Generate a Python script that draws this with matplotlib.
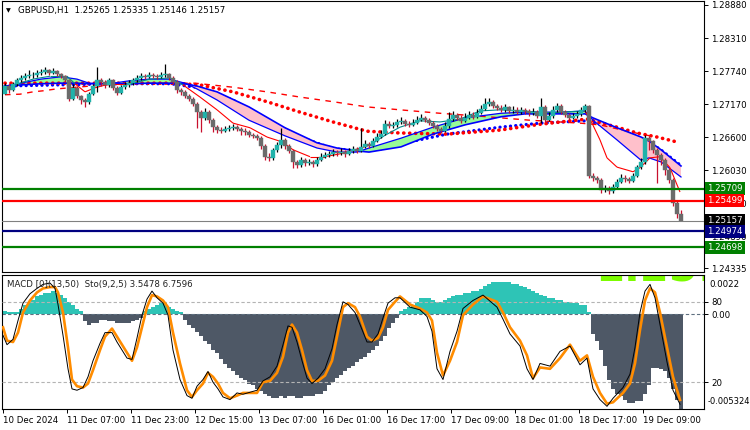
import numpy as np
import matplotlib
matplotlib.use("Agg")
import matplotlib.pyplot as plt
from matplotlib.collections import LineCollection
from matplotlib.transforms import blended_transform_factory as btf

plt.rcParams['font.family'] = ['DejaVu Sans']
FS = 6.2

# ---------------- data: GBPUSD H1 candles ----------------
first_open = 1.2734
closes = [
    1.2748, 1.2741, 1.2752, 1.2758, 1.2762, 1.2765, 1.2767, 1.2767, 1.2770, 1.2772,
    1.2776, 1.2770, 1.2774, 1.2769, 1.2765, 1.2758, 1.2726, 1.2745, 1.2731, 1.2724,
    1.2721, 1.2734, 1.2748, 1.2758, 1.2755, 1.2750, 1.2758, 1.2745, 1.2736, 1.2746,
    1.2750, 1.2753, 1.2758, 1.2762, 1.2765, 1.2764, 1.2767, 1.2765, 1.2764, 1.2767,
    1.2769, 1.2762, 1.2755, 1.2741, 1.2738, 1.2731, 1.2726, 1.2717, 1.2703, 1.2693,
    1.2703, 1.2689, 1.2677, 1.2672, 1.2670, 1.2674, 1.2676, 1.2677, 1.2674, 1.2670,
    1.2669, 1.2663, 1.2662, 1.2658, 1.2644, 1.2626, 1.2624, 1.2638, 1.2646, 1.2655,
    1.2644, 1.2636, 1.2617, 1.2612, 1.2620, 1.2615, 1.2617, 1.2613, 1.2620, 1.2626,
    1.2629, 1.2631, 1.2634, 1.2632, 1.2634, 1.2631, 1.2636, 1.2639, 1.2636, 1.2643,
    1.2648, 1.2644, 1.2653, 1.2660, 1.2665, 1.2682, 1.2679, 1.2681, 1.2686, 1.2688,
    1.2682, 1.2681, 1.2684, 1.2689, 1.2693, 1.2689, 1.2684, 1.2679, 1.2674, 1.2670,
    1.2679, 1.2691, 1.2698, 1.2693, 1.2688, 1.2693, 1.2698, 1.2695, 1.2701, 1.2708,
    1.2717, 1.2721, 1.2714, 1.2710, 1.2707, 1.2712, 1.2705, 1.2707, 1.2703, 1.2707,
    1.2705, 1.2701, 1.2703, 1.2696, 1.2712, 1.2689, 1.2696, 1.2707, 1.2714, 1.2703,
    1.2698, 1.2693, 1.2696, 1.2700, 1.2707, 1.2714, 1.2593, 1.2589, 1.2586, 1.2569,
    1.2572, 1.2567, 1.2574, 1.2582, 1.2589, 1.2588, 1.2584, 1.2593, 1.2608, 1.2617,
    1.2658, 1.2653, 1.2638, 1.2629, 1.2620, 1.2603, 1.2586, 1.2546, 1.25265, 1.25157]
highs = [
    1.2753, 1.2752, 1.2755, 1.2762, 1.2767, 1.2770, 1.2776, 1.2772, 1.2776, 1.2777,
    1.2781, 1.2777, 1.2779, 1.2776, 1.2770, 1.2767, 1.2760, 1.2752, 1.2748, 1.2733,
    1.2727, 1.2738, 1.2752, 1.2781, 1.2762, 1.2758, 1.2762, 1.2760, 1.2748, 1.2750,
    1.2755, 1.2758, 1.2762, 1.2767, 1.2770, 1.2769, 1.2772, 1.2770, 1.2769, 1.2772,
    1.2786, 1.2770, 1.2765, 1.2758, 1.2745, 1.2741, 1.2734, 1.2729, 1.2721, 1.2707,
    1.2710, 1.2707, 1.2693, 1.2681, 1.2677, 1.2679, 1.2681, 1.2682, 1.2681, 1.2677,
    1.2676, 1.2672, 1.2667, 1.2665, 1.2662, 1.2648, 1.2632, 1.2641, 1.2651, 1.2676,
    1.2658, 1.2648, 1.2639, 1.2620, 1.2626, 1.2624, 1.2622, 1.2620, 1.2626, 1.2632,
    1.2634, 1.2636, 1.2639, 1.2638, 1.2641, 1.2638, 1.2641, 1.2644, 1.2643, 1.2676,
    1.2655, 1.2651, 1.2658, 1.2667, 1.2672, 1.2689, 1.2688, 1.2686, 1.2691, 1.2695,
    1.2691, 1.2688, 1.2691, 1.2696, 1.2700, 1.2696, 1.2693, 1.2688, 1.2682, 1.2677,
    1.2686, 1.2703, 1.2705, 1.2701, 1.2698, 1.2701, 1.2705, 1.2703, 1.2708, 1.2715,
    1.2727, 1.2727, 1.2724, 1.2717, 1.2715, 1.2717, 1.2714, 1.2714, 1.2712, 1.2712,
    1.2710, 1.2708, 1.2710, 1.2707, 1.2727, 1.2715, 1.2703, 1.2714, 1.2719, 1.2717,
    1.2707, 1.2701, 1.2701, 1.2705, 1.2712, 1.2717, 1.2715, 1.2598, 1.2593, 1.2589,
    1.2577, 1.2576, 1.2579, 1.2588, 1.2596, 1.2594, 1.2591, 1.2598, 1.2612, 1.2624,
    1.2663, 1.2662, 1.2655, 1.2641, 1.2632, 1.2624, 1.2607, 1.2589, 1.2551, 1.25335]
lows = [
    1.2734, 1.2736, 1.2740, 1.2748, 1.2755, 1.2758, 1.2762, 1.2762, 1.2764, 1.2767,
    1.2769, 1.2767, 1.2769, 1.2765, 1.2762, 1.2755, 1.2722, 1.2724, 1.2727, 1.2717,
    1.2712, 1.2717, 1.2733, 1.2738, 1.2748, 1.2745, 1.2746, 1.2741, 1.2733, 1.2734,
    1.2743, 1.2746, 1.2750, 1.2755, 1.2758, 1.2760, 1.2762, 1.2762, 1.2760, 1.2762,
    1.2764, 1.2758, 1.2752, 1.2736, 1.2733, 1.2727, 1.2722, 1.2714, 1.2676, 1.2669,
    1.2689, 1.2684, 1.2669, 1.2667, 1.2667, 1.2669, 1.2670, 1.2672, 1.2670, 1.2663,
    1.2663, 1.2660, 1.2658, 1.2655, 1.2639, 1.2620, 1.2619, 1.2620, 1.2634, 1.2641,
    1.2639, 1.2632, 1.2607, 1.2607, 1.2608, 1.2610, 1.2612, 1.2608, 1.2610, 1.2619,
    1.2624, 1.2626, 1.2627, 1.2627, 1.2629, 1.2626, 1.2629, 1.2632, 1.2632, 1.2634,
    1.2641, 1.2641, 1.2643, 1.2651, 1.2658, 1.2663, 1.2676, 1.2676, 1.2677, 1.2682,
    1.2679, 1.2677, 1.2679, 1.2682, 1.2688, 1.2686, 1.2681, 1.2676, 1.2670, 1.2667,
    1.2669, 1.2676, 1.2688, 1.2689, 1.2684, 1.2686, 1.2691, 1.2691, 1.2693, 1.2700,
    1.2707, 1.2714, 1.2710, 1.2707, 1.2703, 1.2703, 1.2701, 1.2701, 1.2700, 1.2700,
    1.2700, 1.2696, 1.2698, 1.2693, 1.2684, 1.2686, 1.2688, 1.2693, 1.2703, 1.2700,
    1.2695, 1.2689, 1.2691, 1.2693, 1.2696, 1.2703, 1.2589, 1.2584, 1.2581, 1.2563,
    1.2565, 1.2562, 1.2563, 1.2570, 1.2581, 1.2582, 1.2581, 1.2582, 1.2591, 1.2605,
    1.2613, 1.2638, 1.2632, 1.2581, 1.2612, 1.2594, 1.2581, 1.2541, 1.2520, 1.25146]

# moving-average cloud (fast / slow), sampled at bar indices
cloud_x = [0, 4, 9, 14, 18, 21, 26, 31, 36, 41, 45, 48, 53, 61, 70, 78, 83, 88, 91, 99,
           107, 115, 124, 130, 139, 145, 147, 153, 159, 161, 164, 169]
cloud_fast = [1.2748, 1.2753, 1.2760, 1.2764, 1.2760, 1.2753, 1.2752, 1.2757, 1.2760, 1.2760,
              1.2753, 1.2743, 1.2724, 1.2689, 1.2662, 1.2641, 1.2634, 1.2634, 1.2641, 1.2658,
              1.2677, 1.2693, 1.2701, 1.2703, 1.2703, 1.2705, 1.2689, 1.2655, 1.2620, 1.2624,
              1.2617, 1.2591]
cloud_slow = [1.2748, 1.2750, 1.2752, 1.2753, 1.2753, 1.2752, 1.2752, 1.2752, 1.2753, 1.2753,
              1.2752, 1.2748, 1.2738, 1.2712, 1.2676, 1.2650, 1.2641, 1.2636, 1.2634, 1.2643,
              1.2665, 1.2681, 1.2695, 1.2700, 1.2700, 1.2700, 1.2693, 1.2676, 1.2660, 1.2653,
              1.2638, 1.2610]

# red dotted MA
rdot_x = [0, 13.75, 28.75, 41.25, 48.75, 57, 65.5, 73.75, 82, 90.5, 98.75, 110.5, 123.75,
          133.75, 145.5, 153, 158, 163, 168.25]
rdot_y = [1.2753, 1.2753, 1.2753, 1.2753, 1.2750, 1.2738, 1.2721, 1.2703, 1.2686, 1.2670,
          1.2667, 1.2665, 1.2672, 1.2682, 1.2691, 1.2677, 1.2667, 1.2660, 1.2651]
# blue dotted MA
bdot_x = [0, 13.75, 28.75, 41.25, 48.75, 57, 65.5, 73.75, 82, 88.75, 93.75, 98.75, 110.5,
          123.75, 133.75, 145.5, 153, 159.5, 163.75, 168.75]
bdot_y = [1.2748, 1.2750, 1.2752, 1.2752, 1.2745, 1.2724, 1.2690, 1.2660, 1.2640, 1.2636,
          1.2639, 1.2648, 1.2665, 1.2677, 1.2684, 1.2688, 1.2674, 1.2657, 1.2639, 1.2612]
# red dashed MA
rdash_x = [0, 3.75, 7, 9.75, 12.75, 21.25, 28.75, 38.75, 47.5, 57, 65.5, 73.75, 82, 90.5,
           98.75, 108.75, 118.75, 131.25, 143.75, 148.75, 156.25, 161.25]
rdash_y = [1.2733, 1.2734, 1.2738, 1.2740, 1.2743, 1.2748, 1.2752, 1.2753, 1.2753, 1.2746,
           1.2738, 1.2729, 1.2721, 1.2712, 1.2707, 1.2701, 1.2696, 1.2689, 1.2684, 1.2681,
           1.2669, 1.2662]
# thin fast MA (teal in up-phases, red in down-phases)
thin_x = [0, 3.75, 7, 11.25, 15.5, 17.5, 20, 22.5, 26.25, 31.25,
          36.25, 41.25, 44.5, 48.75, 53, 57, 61.25, 65.5, 69.5, 72,
          76.25, 80, 83.75, 87.5, 91.25, 95, 98.75, 103.75, 108.75, 113.75,
          118.75, 123.75, 128.75, 133.75, 138.75, 145, 146.75, 148.75, 150.5, 153,
          157, 158.75, 161.25, 163.75, 166.25, 168.75]
thin_y = [1.2741, 1.2753, 1.2760, 1.2765, 1.2765, 1.2752, 1.2738, 1.2745, 1.2752, 1.2752,
          1.2760, 1.2762, 1.2750, 1.2729, 1.2707, 1.2684, 1.2676, 1.2660, 1.2651, 1.2638,
          1.2626, 1.2626, 1.2631, 1.2638, 1.2646, 1.2663, 1.2677, 1.2688, 1.2686, 1.2691,
          1.2705, 1.2707, 1.2705, 1.2703, 1.2703, 1.2705, 1.2684, 1.2655, 1.2624, 1.2608,
          1.2600, 1.2607, 1.2624, 1.2626, 1.2607, 1.2565]
thin_teal_ranges = [(0, 17.5), (33, 44.5), (92, 145)]

# horizontal levels
levels = [1.25709, 1.25499, 1.25157, 1.24974, 1.24698]
level_labels = ['1.25709', '1.25499', '1.25157', '1.24974', '1.24698']
level_colors = ['#008000', '#ff0000', '#808080', '#000080', '#008000']
label_bg = ['#008000', '#ff0000', '#000000', '#000080', '#008000']
level_widths = [1.6, 1.6, 0.8, 1.6, 1.6]

price_ticks = [1.28880, 1.28310, 1.27740, 1.27170, 1.26600, 1.26030, 1.25460, 1.24890, 1.24335]

# MACD histogram (one value per bar)
macd_hist = [
    0.0002, 0.0001, 0.0001, 0.0001, 0.0003, 0.0005, 0.0007, 0.0008, 0.0010, 0.0011,
    0.0012, 0.0012, 0.0013, 0.0012, 0.0011, 0.0009, 0.0007, 0.0005, 0.0003, 0.0002,
    -0.0004, -0.0006, -0.0005, -0.0005, -0.0003, -0.0003, -0.0004, -0.0004, -0.0005, -0.0005,
    -0.0005, -0.0005, -0.0004, -0.0003, -0.0002, 0.0002, 0.0003, 0.0004, 0.0005, 0.0006,
    0.0006, 0.0004, 0.0003, 0.0002, 0.0001, -0.0003, -0.0006, -0.0008, -0.0010, -0.0012,
    -0.0015, -0.0017, -0.0020, -0.0022, -0.0025, -0.0028, -0.0030, -0.0032, -0.0034, -0.0036,
    -0.0037, -0.0039, -0.0040, -0.0042, -0.0043, -0.0045, -0.0046, -0.0047, -0.0047, -0.0046,
    -0.0047, -0.0046, -0.0046, -0.0047, -0.0047, -0.0046, -0.0046, -0.0046, -0.0045, -0.0045,
    -0.0043, -0.0040, -0.0038, -0.0036, -0.0034, -0.0032, -0.0030, -0.0029, -0.0027, -0.0025,
    -0.0024, -0.0022, -0.0020, -0.0018, -0.0015, -0.0012, -0.0008, -0.0005, -0.0002, 0.0002,
    0.0003, 0.0004, 0.0005, 0.0007, 0.0009, 0.0009, 0.0009, 0.0008, 0.0007, 0.0007,
    0.0008, 0.0009, 0.0010, 0.0011, 0.0011, 0.0012, 0.0012, 0.0013, 0.0013, 0.0014,
    0.0016, 0.0017, 0.0018, 0.0018, 0.0018, 0.0018, 0.0018, 0.0017, 0.0017, 0.0016,
    0.0015, 0.0014, 0.0013, 0.0012, 0.0011, 0.0010, 0.0009, 0.0009, 0.0008, 0.0008,
    0.0007, 0.0007, 0.0006, 0.0006, 0.0005, 0.0005, 0.0001, -0.0011, -0.0015, -0.0020,
    -0.0029, -0.0037, -0.0042, -0.0045, -0.0046, -0.0048, -0.0050, -0.0050, -0.0049, -0.0049,
    -0.0045, -0.0040, -0.0030, -0.0030, -0.0031, -0.0032, -0.0036, -0.0042, -0.0048, -0.0053]

# Stochastic (9,2,5): bar positions, signal (orange) and main (black)
sto_x = [-0.5, 0.5, 2, 3.25, 4.5, 6.25, 8, 9.5, 11.25, 12.5,
         13.25, 14.5, 15.75, 16.75, 18, 19.5, 20.75, 22, 23.75, 25,
         26.75, 28, 29.25, 30.5, 31.75, 33, 34.25, 35.5, 36.75, 38,
         39.5, 40.75, 42, 43.75, 45.5, 46.75, 48, 49.5, 50.75, 52,
         53.25, 54.5, 56.25, 58, 59.5, 63, 64.5, 66.25, 68, 69.5,
         70.75, 71.75, 73, 74.25, 75.5, 76.75, 78.25, 80, 81.75, 83,
         84.5, 85.75, 87.5, 88.75, 90.5, 91.75, 93.25, 94.5, 95.75, 97.5,
         98.75, 101.25, 103.75, 105.5, 106.75, 108, 109.5, 111.25, 113, 114.5,
         117, 119.5, 123, 124.5, 126.25, 128.75, 130.5, 132, 133.75, 136.25,
         138.75, 141.25, 143.75, 145.5, 147, 148.75, 150.5, 152, 154.5, 156.25,
         157.5, 158.75, 160, 161.25, 162.5, 163.75, 165.5, 167, 168.75]
sto_signal = [61, 51, 50, 57, 72, 81, 87, 90, 91, 91,
              87, 72, 46, 22, 17, 16, 19, 29, 44, 54,
              60, 54, 48, 42, 36, 46, 61, 76, 85, 84,
              81, 76, 57, 34, 14, 9, 14, 19, 27, 24,
              19, 12, 8, 10, 12, 12, 20, 21, 27, 39,
              57, 63, 57, 44, 29, 21, 21, 25, 36, 54,
              76, 79, 76, 69, 54, 51, 53, 61, 74, 80,
              84, 78, 75, 72, 66, 42, 25, 36, 50, 70,
              78, 84, 80, 72, 61, 51, 40, 23, 31, 30,
              38, 48, 36, 40, 24, 12, 4, 5, 12, 19,
              34, 59, 81, 90, 87, 72, 46, 24, 6.76]
sto_main = [55, 48, 52, 66, 79, 86, 90, 93, 94, 90,
            78, 55, 30, 15, 14, 16, 24, 36, 49, 57,
            57, 50, 44, 38, 37, 53, 70, 82, 88, 83,
            79, 70, 44, 22, 10, 8, 17, 22, 28, 20,
            15, 9, 7, 12, 11, 14, 21, 24, 32, 48,
            62, 61, 50, 36, 23, 19, 23, 30, 45, 63,
            80, 78, 72, 63, 50, 50, 56, 68, 79, 83,
            83, 76, 74, 69, 58, 30, 22, 43, 58, 75,
            81, 85, 76, 67, 56, 47, 30, 22, 34, 32,
            43, 47, 33, 38, 15, 7, 2, 8, 16, 26,
            46, 72, 88, 93, 83, 63, 35, 14, 3.55]

xtick_pos = [-0.5, 15.5, 31.5, 47.5, 63.5, 79.5, 95.5, 111.5, 127.5, 143.5, 159.5]
xtick_labels = ['10 Dec 2024', '11 Dec 07:00', '11 Dec 23:00', '12 Dec 15:00', '13 Dec 07:00',
                '16 Dec 01:00', '16 Dec 17:00', '17 Dec 09:00', '18 Dec 01:00',
                '18 Dec 17:00', '19 Dec 09:00']

# ---------------- figure ----------------
W, H = 750, 430
fig = plt.figure(figsize=(7.5, 4.3), dpi=100)
fig.patch.set_facecolor('white')


def frac(x0, y0, x1, y1):
    return [x0 / W, 1 - y1 / H, (x1 - x0) / W, (y1 - y0) / H]


ax = fig.add_axes(frac(2, 1, 704, 272))
axl = fig.add_axes(frac(2, 275, 704, 409), sharex=ax)

c = np.array(closes)
o = np.array([first_open] + closes[:-1])
h = np.array(highs)
l = np.array(lows)
bars = np.arange(len(c))
up = c >= o

# cloud
cx = np.array(cloud_x, float)
cf = np.array(cloud_fast)
cs = np.array(cloud_slow)
ax.plot(bdot_x, bdot_y, color='#0000ff', lw=2.3, linestyle=(0, (0.05, 1.6)),
        dash_capstyle='round', zorder=1.1)
ax.fill_between(cx, cf, cs, where=cf <= cs, interpolate=True, color='#ffc0cb', lw=0, zorder=1.2)
ax.fill_between(cx, cf, cs, where=cf >= cs, interpolate=True, color='#98fb98', lw=0, zorder=1.2)
ax.plot(cx, cs, color='#0000ff', lw=1.2, zorder=2.2)
ax.plot(cx, cf, color='#0000ff', lw=0.9, zorder=2.2)
ax.plot(rdot_x, rdot_y, color='#ff0000', lw=2.6, linestyle=(0, (0.05, 1.6)),
        dash_capstyle='round', zorder=2.0)
ax.plot(rdash_x, rdash_y, color='#ff0000', lw=1.0, linestyle=(0, (4, 4)), zorder=2.1)

# thin fast line with colour segments
tx = np.array(thin_x)
ty = np.array(thin_y)
segs, cols = [], []
for i in range(len(tx) - 1):
    mid = 0.5 * (tx[i] + tx[i + 1])
    teal = any(a <= mid <= b for a, b in thin_teal_ranges)
    segs.append([(tx[i], ty[i]), (tx[i + 1], ty[i + 1])])
    cols.append('#008b8b' if teal else '#ff0000')
ax.add_collection(LineCollection(segs, colors=cols, linewidths=0.8, zorder=2.4))

# candles
body_lo = np.minimum(o, c)
body_h = np.abs(c - o)
body_col = np.where(up, '#20b2aa', '#6b6b6b')
wick_col = np.where(up, '#000000', '#c8102e')
ax.vlines(bars, l, h, colors=list(wick_col), lw=0.9, zorder=3)
ax.bar(bars, body_h, bottom=body_lo, width=0.8, color=list(body_col),
       edgecolor=list(body_col), linewidth=0.3, zorder=3.1)

# levels
for val, col, lw in zip(levels, level_colors, level_widths):
    ax.axhline(val, color=col, lw=lw, zorder=4)

ax.set_xlim(-0.75, 174.75)
ax.set_ylim(1.24269, 1.28949)
ax.yaxis.tick_right()
ax.set_yticks(price_ticks)
ax.set_yticklabels([f'{v:.5f}' for v in price_ticks])
ax.tick_params(axis='y', length=3, width=0.7, pad=2, labelsize=FS, direction='out')
ax.tick_params(axis='x', bottom=False, labelbottom=False)
for s in ax.spines.values():
    s.set_color('black')
    s.set_linewidth(0.8)

tr = btf(ax.transAxes, ax.transData)
for val, bg, txt in zip(levels, label_bg, level_labels):
    ax.text(1.0045, val, txt, transform=tr, ha='left', va='center', color='white',
            fontsize=FS, clip_on=False, zorder=10,
            bbox=dict(boxstyle='square,pad=0.22', fc=bg, ec='none'))

fig.text(6 / W, 1 - 10.5 / H, '\u25BC', fontsize=4.5, va='center', ha='left')
fig.text(18 / W, 1 - 11 / H, 'GBPUSD,H1  1.25265 1.25335 1.25146 1.25157',
         fontsize=FS, va='center', ha='left')

# ---------------- lower panel ----------------
mh = np.array(macd_hist)
lime = axl.text(0.845, 0.955, '1.25157', transform=axl.transAxes, fontsize=30, color='#7cfc00',
                fontweight='bold', va='baseline', ha='left', zorder=0.5)
lime.set_clip_box(axl.bbox)
lime.set_clip_on(True)
axl.bar(bars, mh, width=0.8, color=list(np.where(mh >= 0, '#2ec4b6', '#4e5866')), lw=0, zorder=1)
axl.axhline(0, color='#5f7080', lw=0.8, linestyle=(0, (3, 2)), zorder=1.5)
axl.set_ylim(-0.005324, 0.0022)
axl.set_xticks(xtick_pos)
axl.set_xticklabels(xtick_labels)
for lbl in axl.get_xticklabels():
    lbl.set_ha('left')
axl.tick_params(axis='x', length=3, width=0.7, pad=2, labelsize=FS)
for s in axl.spines.values():
    s.set_color('black')
    s.set_linewidth(0.8)

axs = axl.twinx()
axs.set_ylim(0, 100)
axs.axhline(80, color='#b4b4b4', lw=0.8, linestyle=(0, (3, 2)))
axs.axhline(20, color='#b4b4b4', lw=0.8, linestyle=(0, (3, 2)))
axs.plot(sto_x, sto_signal, color='#ff8c00', lw=1.9, zorder=3)
axs.plot(sto_x, sto_main, color='#000000', lw=0.7, zorder=4)
axs.set_yticks([20, 80])
axs.set_yticklabels(['20', '80'])
axs.tick_params(axis='y', length=3, width=0.7, pad=2, labelsize=FS)
for s in axs.spines.values():
    s.set_visible(False)

# MACD axis ticks on the right (after twinx, which moves them left)
axl.yaxis.tick_right()
axl.set_yticks([0.0])
axl.set_yticklabels(['0.00'])
axl.tick_params(axis='y', left=False, labelleft=False, right=True, labelright=True,
                length=3, width=0.7, pad=2, labelsize=FS)

trl = axl.transAxes
axl.text(1.0075, 0.963, '0.0022', transform=trl, fontsize=FS, va='top', ha='left', clip_on=False)
axl.text(1.0045, 0.02, '-0.005324', transform=trl, fontsize=6.0, va='bottom', ha='left', clip_on=False)

fig.text(7 / W, 1 - 285 / H, 'MACD [0](13,50)  Sto(9,2,5) 3.5478 6.7596',
         fontsize=FS, va='center', ha='left', color='#202020')

fig.savefig('out.png', dpi=100, facecolor='white')
